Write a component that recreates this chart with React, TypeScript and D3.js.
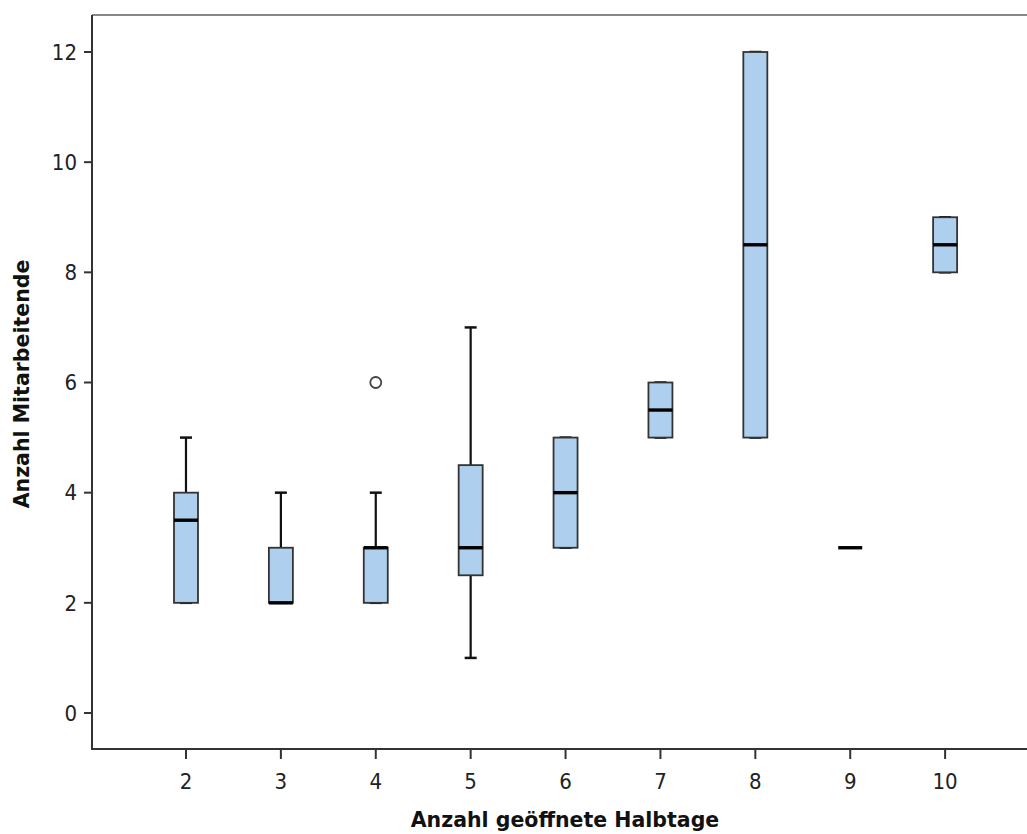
import React from 'react';
import * as d3 from 'd3';

const width = 1027;
const height = 834;

// Box plot summary per group (Anzahl geöffnete Halbtage)
const groups = [2, 3, 4, 5, 6, 7, 8, 9, 10];
const whiskerLow = [2, 2, 2, 1, 3, 5, 5, 3, 8];
const q1 = [2, 2, 2, 2.5, 3, 5, 5, 3, 8];
const median = [3.5, 2, 3, 3, 4, 5.5, 8.5, 3, 8.5];
const q3 = [4, 3, 3, 4.5, 5, 6, 12, 3, 9];
const whiskerHigh = [5, 4, 4, 7, 5, 6, 12, 3, 9];
const outliers = [{ group: 4, value: 6 }];

const yTicks = [0, 2, 4, 6, 8, 10, 12];

const x = d3.scaleLinear().domain([1, 11]).range([91.1, 1040]);
const y = d3.scaleLinear().domain([0, 12]).range([713, 52]);

const boxW = 24;
const capW = 12;
const fill = '#aed0ee';
const edge = '#333';
const tickFont = "'Liberation Sans Narrow', 'DejaVu Sans Condensed', sans-serif";
const titleFont = "'DejaVu Sans', Verdana, sans-serif";

const plotLeft = 92;
const plotTop = 15;
const plotBottom = 749;

export default function App() {
  return (
    <svg width={width} height={height} style={{ position: 'absolute', left: 0, top: 0, background: '#fff' }}>
      {/* frame */}
      <line x1={plotLeft} x2={width} y1={plotTop} y2={plotTop} stroke="#888" strokeWidth={2} />
      <line x1={plotLeft} x2={plotLeft} y1={plotTop} y2={plotBottom} stroke={edge} strokeWidth={2} />
      <line x1={plotLeft - 1} x2={width} y1={plotBottom} y2={plotBottom} stroke={edge} strokeWidth={2} />

      {yTicks.map(t => (
        <g key={t}>
          <line x1={plotLeft - 8} x2={plotLeft} y1={y(t)} y2={y(t)} stroke={edge} strokeWidth={2} />
          <text x={77} y={y(t)} dy="0.35em" textAnchor="end" fontFamily={tickFont} fontSize={22} fill="#222">{t}</text>
        </g>
      ))}
      {groups.map(g => (
        <g key={g}>
          <line x1={x(g)} x2={x(g)} y1={plotBottom} y2={plotBottom + 10} stroke={edge} strokeWidth={2} />
          <text x={x(g)} y={781} dy="0.35em" textAnchor="middle" fontFamily={tickFont} fontSize={22} fill="#222">{g}</text>
        </g>
      ))}

      {groups.map((g, i) => {
        const cx = x(g);
        const isFlat = q1[i] === q3[i];
        return (
          <g key={'box' + g}>
            {!isFlat && (
              <>
                <line x1={cx} x2={cx} y1={y(whiskerHigh[i])} y2={y(q3[i])} stroke="#111" strokeWidth={2.2} />
                <line x1={cx} x2={cx} y1={y(q1[i])} y2={y(whiskerLow[i])} stroke="#111" strokeWidth={2.2} />
                <line x1={cx - capW / 2} x2={cx + capW / 2} y1={y(whiskerHigh[i])} y2={y(whiskerHigh[i])} stroke="#111" strokeWidth={2.5} />
                <line x1={cx - capW / 2} x2={cx + capW / 2} y1={y(whiskerLow[i])} y2={y(whiskerLow[i])} stroke="#111" strokeWidth={2.5} />
                <rect x={cx - boxW / 2} y={y(q3[i])} width={boxW} height={y(q1[i]) - y(q3[i])}
                  fill={fill} stroke={edge} strokeWidth={1.8} />
              </>
            )}
            <line x1={cx - boxW / 2} x2={cx + boxW / 2} y1={y(median[i])} y2={y(median[i])} stroke="#000" strokeWidth={3.4} />
          </g>
        );
      })}

      {outliers.map((o, i) => (
        <circle key={i} cx={x(o.group)} cy={y(o.value)} r={5.5} fill="#fff" stroke="#444" strokeWidth={1.8} />
      ))}

      <text x={565} y={820} dy="0.35em" textAnchor="middle" fontFamily={titleFont} fontWeight="bold" fontSize={20.5} fill="#111">
        Anzahl geöffnete Halbtage
      </text>
      <text transform={`translate(22,384) rotate(-90)`} dy="0.35em" textAnchor="middle" fontFamily={titleFont} fontWeight="bold" fontSize={20.5} fill="#111">
        Anzahl Mitarbeitende
      </text>
    </svg>
  );
}
